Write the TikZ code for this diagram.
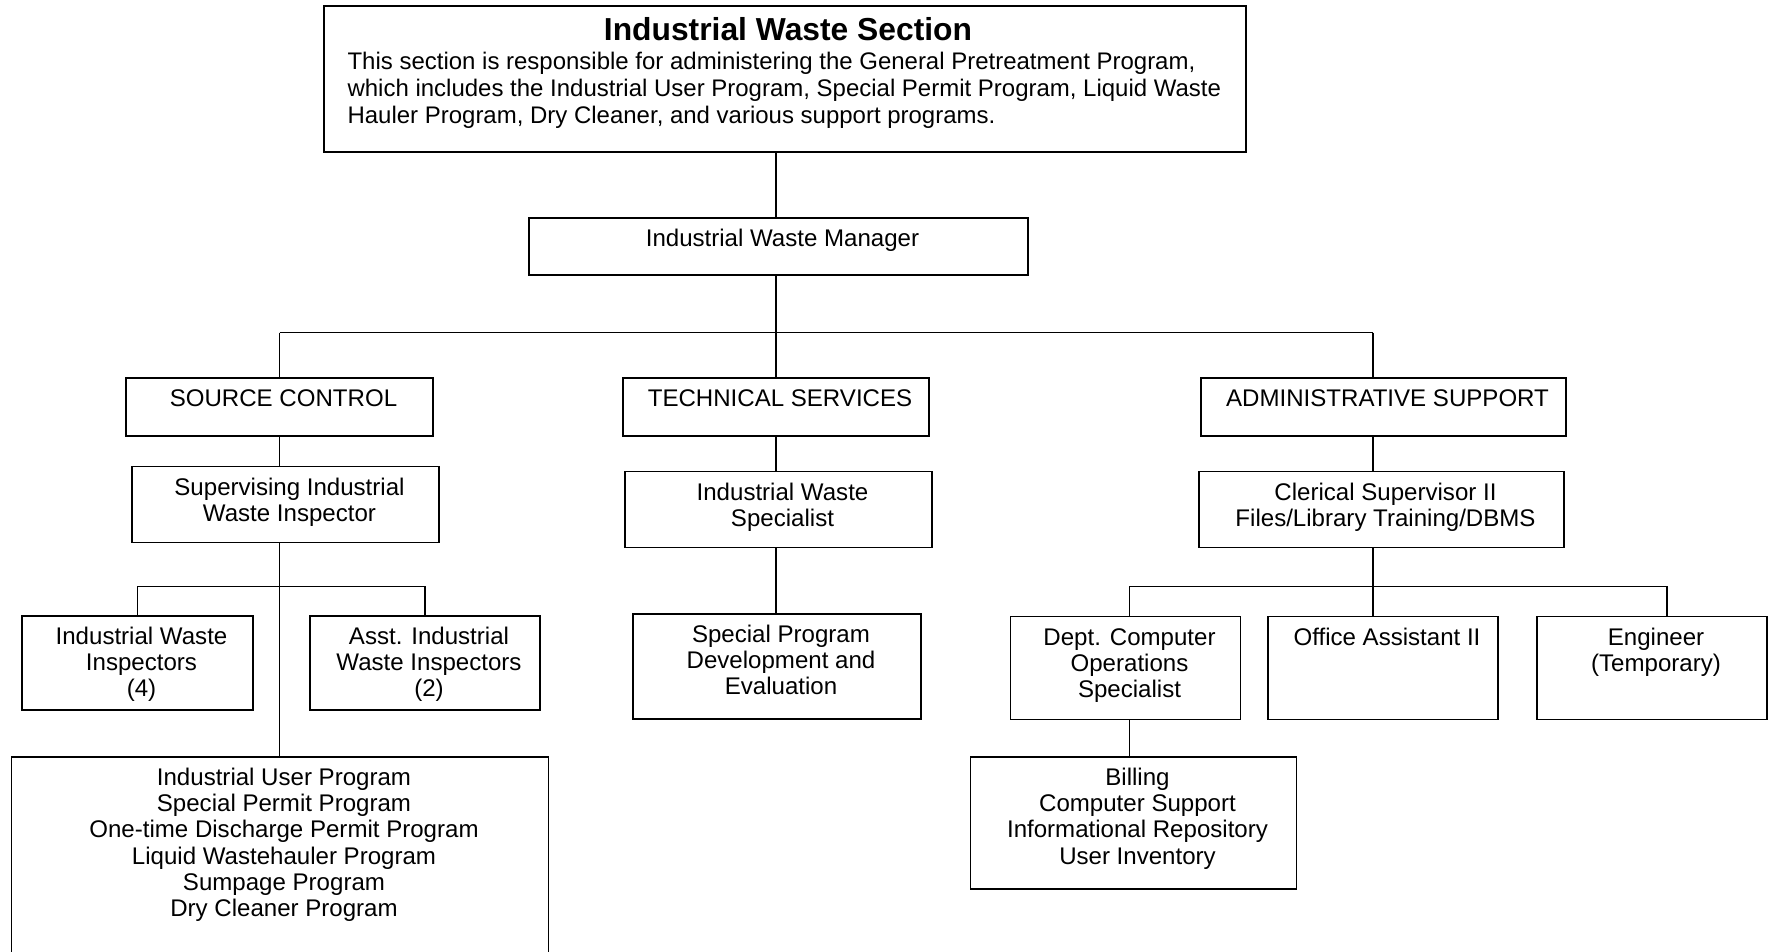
\documentclass[tikz,border=0pt]{standalone}
\usepackage{fontspec}
\setmainfont{Liberation Sans}
\newcommand{\chartfont}{\fontsize{13.7}{14.9}\selectfont}
\newcommand{\headfont}{\fontsize{18.1}{21}\selectfont\bfseries}
\newcommand{\notefont}{\fontsize{13.65}{15.4}\selectfont}

\begin{document}
\begin{tikzpicture}[
    x=0.02cm, y=-0.02cm,
    unit/.style 2 args={draw, line width=0.8pt, fill=white, inner sep=0pt, font=\chartfont,
      execute at begin node={\begin{minipage}[c][#2][t]{#1}\centering\leftskip=0.16cm plus 1fil\rule{0pt}{0.57cm}},
      execute at end node={\end{minipage}}},
    link/.style={line width=0.6pt},
    bus/.style={line width=0.8pt}
  ]
  \useasboundingbox (0,0) rectangle (1769,952);
  \clip (0,0) rectangle (1769,952);

  % top of the chart
  \node[draw, line width=0.8pt, inner sep=0pt] (section) at (785,79) {\begin{minipage}[c][2.92cm][t]{18.44cm}
      \centering\leftskip=0.12cm plus 1fil\rule{0pt}{0.694cm}{\headfont Industrial Waste Section}\par
      \vspace{0.032cm}\notefont\leftskip=0.47cm\rightskip=0pt plus 1fil
      This section is responsible for administering the General Pretreatment Program,\\
      which includes the Industrial User Program, Special Permit Program, Liquid Waste\\
      Hauler Program, Dry Cleaner, and various support programs.\par
    \end{minipage}};
  \node[unit={9.98cm}{1.14cm}] (manager) at (778.5,246.5) {Industrial Waste Manager};

  % divisions
  \node[unit={6.14cm}{1.16cm}] (source) at (279.5,407) {SOURCE CONTROL};
  \node[unit={6.12cm}{1.16cm}] (tech) at (776,407) {TECHNICAL SERVICES};
  \node[unit={7.3cm}{1.16cm}] (admin) at (1383.5,407) {ADMINISTRATIVE SUPPORT};

  % supervisors
  \node[unit={6.14cm}{1.51cm}] (supervisor) at (285.5,504.5) {Supervising Industrial\\Waste Inspector};
  \node[unit={6.14cm}{1.51cm}] (specialist) at (778.5,509.5) {Industrial Waste\\Specialist};
  \node[unit={7.3cm}{1.51cm}] (clerical) at (1381.5,509.5) {Clerical Supervisor II\\Files/Library Training/DBMS};

  % staff
  \node[unit={4.62cm}{1.88cm}] (inspectors) at (137.5,663) {Industrial Waste\\Inspectors\\(4)};
  \node[unit={4.6cm}{1.88cm}] (assistants) at (425,663) {Asst. Industrial\\Waste Inspectors\\(2)};
  \node[unit={5.76cm}{2.1cm}] (special) at (777,666.5) {Special Program\\Development and\\Evaluation};
  \node[unit={4.6cm}{2.05cm}] (computer) at (1125.5,668) {Dept. Computer\\Operations\\Specialist};
  \node[unit={4.6cm}{2.05cm}] (office) at (1383,668) {Office Assistant II};
  \node[unit={4.6cm}{2.05cm}] (engineer) at (1652,668) {Engineer\\(Temporary)};

  % programs
  \node[unit={10.75cm}{4.1cm}] (programs) at (280,859.5) {Industrial User Program\\Special Permit Program\\One-time Discharge Permit Program\\Liquid Wastehauler Program\\Sumpage Program\\Dry Cleaner Program};
  \node[unit={6.53cm}{2.64cm}] (billing) at (1133.5,823) {Billing\\Computer Support\\Informational Repository\\User Inventory};

  % junctions
  \coordinate (spine) at (776,332.7);
  \coordinate (adminjoin) at (1373,332.7);
  \coordinate (srcjoin) at (280,586.7);
  \coordinate (compjoin) at (1129.4,586.7);
  \coordinate (engjoin) at (1667,586.7);

  % connectors
  \draw[link] (tech |- section.south) -- (tech |- manager.north);
  \draw[link] (tech |- manager.south) -- (tech.north);
  \draw[bus] (source |- spine) -- (adminjoin);
  \draw[link] (source |- spine) -- (source.north);
  \draw[link] (adminjoin) -- (adminjoin |- admin.north);
  \draw[link] (source.south) -- (source.south |- supervisor.north);
  \draw[link] (source.south |- supervisor.south) -- (source.south |- programs.north);
  \draw[bus] (inspectors.north) |- (srcjoin) -| (assistants.north);
  \draw[link] (tech.south) -- (tech.south |- specialist.north);
  \draw[link] (tech.south |- specialist.south) -- (tech.south |- special.north);
  \draw[link] (adminjoin |- admin.south) -- (adminjoin |- clerical.north);
  \draw[link] (adminjoin |- clerical.south) -- (adminjoin |- office.north);
  \draw[bus] (compjoin |- computer.north) |- (engjoin) -- (engjoin |- engineer.north);
  \draw[link] (compjoin |- computer.south) -- (compjoin |- billing.north);
\end{tikzpicture}
\end{document}
